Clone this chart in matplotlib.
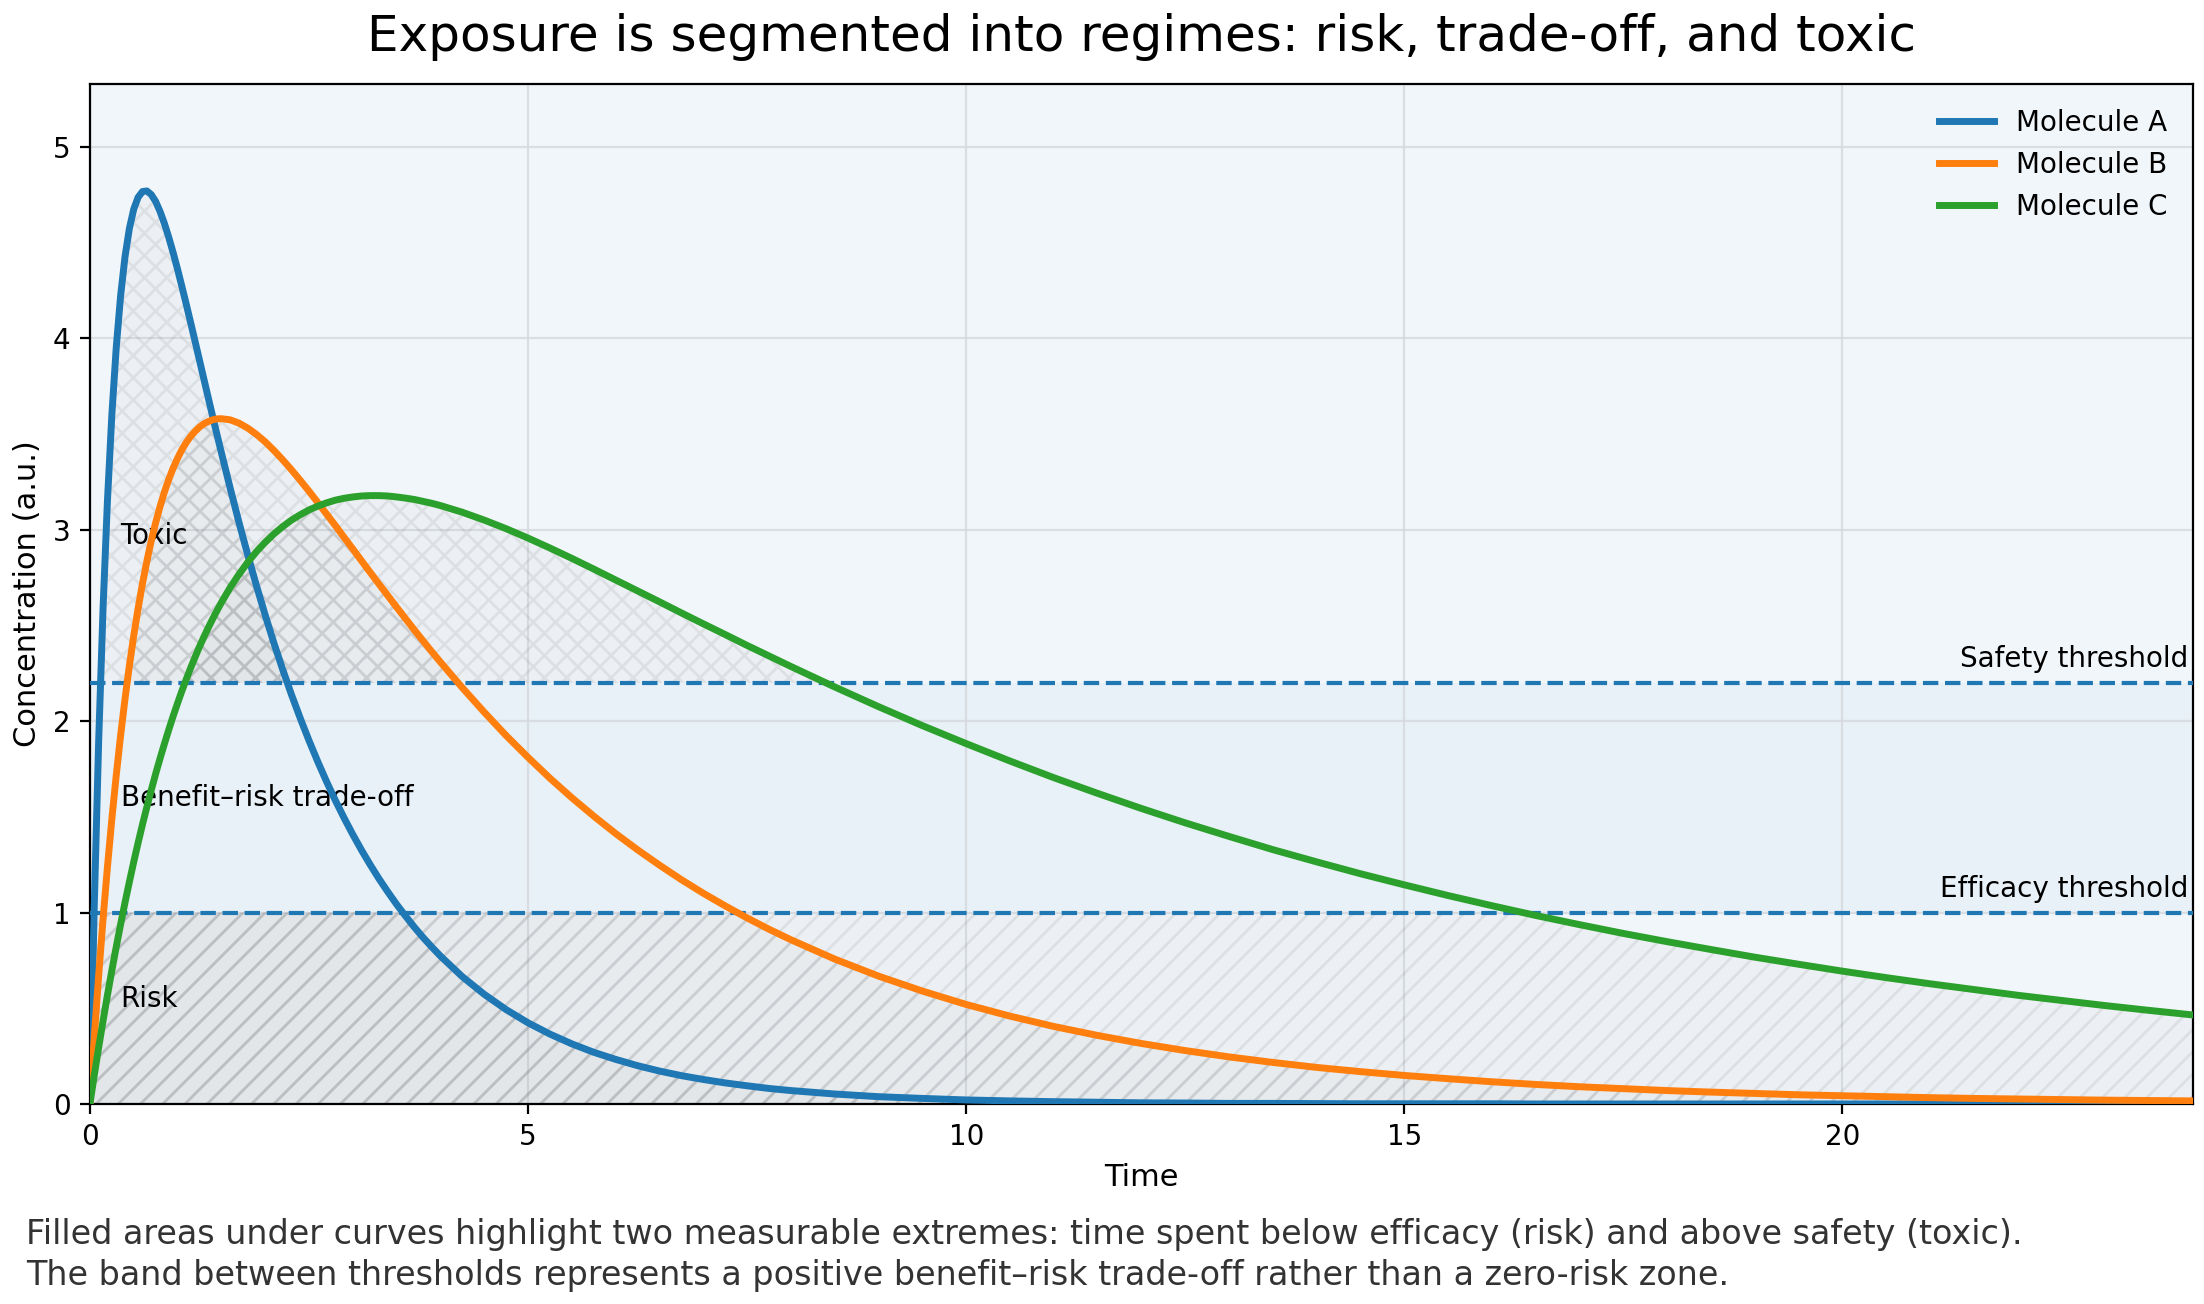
import numpy as np
import matplotlib
matplotlib.use("Agg")
import matplotlib.pyplot as plt

# time grid and concentrations
time = [0.00, 0.05, 0.10, 0.15, 0.20, 0.25, 0.30, 0.35, 0.40, 0.45, 0.50, 0.55, 0.60, 0.65,
        0.70, 0.75, 0.80, 0.85, 0.90, 0.95, 1.00, 1.05, 1.10, 1.15, 1.20, 1.25, 1.30, 1.35,
        1.40, 1.45, 1.50, 1.60, 1.70, 1.80, 1.90, 2.00, 2.10, 2.20, 2.30, 2.40, 2.50, 2.60,
        2.70, 2.80, 2.90, 3.00, 3.10, 3.20, 3.30, 3.40, 3.50, 3.60, 3.70, 3.80, 3.90, 4.00,
        4.25, 4.50, 4.75, 5.00, 5.25, 5.50, 5.75, 6.00, 6.25, 6.50, 6.75, 7.00, 7.25, 7.50,
        7.75, 8.00, 8.5, 9.0, 9.5, 10.0, 10.5, 11.0, 11.5, 12.0, 12.5, 13.0, 13.5, 14.0,
        14.5, 15.0, 15.5, 16.0, 16.5, 17.0, 17.5, 18.0, 18.5, 19.0, 19.5, 20.0, 20.5, 21.0,
        21.5, 22.0, 22.5, 23.0, 23.5, 24.0]

mol_a = [0.000, 1.044, 1.899, 2.593, 3.153, 3.599, 3.951, 4.222, 4.426, 4.574, 4.676, 4.738,
         4.768, 4.771, 4.752, 4.716, 4.664, 4.601, 4.528, 4.448, 4.362, 4.271, 4.178, 4.082,
         3.985, 3.887, 3.789, 3.691, 3.594, 3.498, 3.404, 3.219, 3.041, 2.871, 2.709, 2.555,
         2.408, 2.270, 2.139, 2.016, 1.899, 1.789, 1.685, 1.587, 1.495, 1.408, 1.326, 1.249,
         1.176, 1.108, 1.043, 0.983, 0.925, 0.871, 0.821, 0.773, 0.665, 0.573, 0.493, 0.424,
         0.365, 0.314, 0.270, 0.233, 0.200, 0.172, 0.148, 0.128, 0.110, 0.095, 0.081, 0.070,
         0.052, 0.038, 0.029, 0.021, 0.016, 0.012, 0.009, 0.006, 0.005, 0.003, 0.003, 0.002,
         0.001, 0.001, 0.001, 0.001, 0.000, 0.000, 0.000, 0.000, 0.000, 0.000, 0.000, 0.000,
         0.000, 0.000, 0.000, 0.000, 0.000, 0.000, 0.000, 0.000]

mol_b = [0.000, 0.350, 0.672, 0.968, 1.239, 1.488, 1.716, 1.925, 2.115, 2.289, 2.447, 2.590,
         2.720, 2.837, 2.943, 3.037, 3.122, 3.198, 3.264, 3.323, 3.374, 3.419, 3.457, 3.489,
         3.515, 3.537, 3.554, 3.566, 3.575, 3.580, 3.581, 3.575, 3.558, 3.532, 3.499, 3.460,
         3.415, 3.366, 3.314, 3.259, 3.202, 3.143, 3.083, 3.023, 2.961, 2.900, 2.838, 2.777,
         2.716, 2.656, 2.596, 2.537, 2.478, 2.421, 2.364, 2.309, 2.175, 2.047, 1.925, 1.811,
         1.702, 1.600, 1.504, 1.413, 1.328, 1.248, 1.172, 1.101, 1.035, 0.972, 0.913, 0.858,
         0.757, 0.668, 0.590, 0.520, 0.459, 0.405, 0.358, 0.316, 0.279, 0.246, 0.217, 0.191,
         0.169, 0.149, 0.132, 0.116, 0.102, 0.090, 0.080, 0.070, 0.062, 0.055, 0.048, 0.043,
         0.038, 0.033, 0.029, 0.026, 0.023, 0.020, 0.018, 0.016]

mol_c = [0.000, 0.151, 0.296, 0.435, 0.569, 0.697, 0.820, 0.938, 1.052, 1.160, 1.265, 1.365,
         1.461, 1.552, 1.640, 1.725, 1.805, 1.882, 1.956, 2.027, 2.094, 2.159, 2.220, 2.279,
         2.335, 2.389, 2.440, 2.488, 2.534, 2.578, 2.620, 2.698, 2.767, 2.830, 2.886, 2.935,
         2.979, 3.017, 3.051, 3.079, 3.104, 3.124, 3.141, 3.155, 3.165, 3.172, 3.177, 3.179,
         3.179, 3.177, 3.172, 3.166, 3.159, 3.149, 3.139, 3.127, 3.092, 3.051, 3.006, 2.957,
         2.905, 2.851, 2.795, 2.738, 2.681, 2.624, 2.566, 2.509, 2.453, 2.396, 2.341, 2.286,
         2.179, 2.076, 1.977, 1.883, 1.792, 1.705, 1.623, 1.544, 1.469, 1.398, 1.329, 1.265,
         1.203, 1.145, 1.089, 1.036, 0.985, 0.937, 0.891, 0.848, 0.807, 0.767, 0.730, 0.694,
         0.660, 0.628, 0.598, 0.568, 0.541, 0.514, 0.489, 0.465]

names = ["Molecule A", "Molecule B", "Molecule C"]
colors = ["#1f77b4", "#ff7f0e", "#2ca02c"]

efficacy = 1.0
safety = 2.2

t = np.array(time)
series = [np.array(mol_a), np.array(mol_b), np.array(mol_c)]

fig = plt.figure(figsize=(11.02, 6.52), dpi=200)
ax = fig.add_axes([0.0408, 0.1534, 0.9542, 0.7822])
ax.set_facecolor("#f1f6fa")

# band between the two thresholds
ax.axhspan(efficacy, safety, color="#1f77b4", alpha=0.04, lw=0, zorder=0)

fill_face = (0.5, 0.5, 0.5, 0.045)
hatch_edge = (0.5, 0.5, 0.5, 0.14)
for c in series:
    # risk: part of the curve below efficacy
    ax.fill_between(t, 0, np.minimum(c, efficacy), facecolor=fill_face,
                    edgecolor=hatch_edge, hatch="///", linewidth=0, zorder=1)
    # toxic: part of the curve above safety
    ax.fill_between(t, safety, c, where=c > safety, interpolate=True,
                    facecolor=fill_face, edgecolor=hatch_edge, hatch="xxx",
                    linewidth=0, zorder=1)

ax.grid(True, color="#d5d9de", linewidth=0.8, alpha=0.8)
ax.set_axisbelow(True)

for c, name, col in zip(series, names, colors):
    ax.plot(t, c, color=col, lw=2.5, label=name, zorder=4)

ax.axhline(safety, color="#1f77b4", lw=1.5, ls="--", zorder=3)
ax.axhline(efficacy, color="#1f77b4", lw=1.5, ls="--", zorder=3)
ax.text(23.95, safety + 0.05, "Safety threshold", ha="right", va="bottom", fontsize=10)
ax.text(23.95, efficacy + 0.05, "Efficacy threshold", ha="right", va="bottom", fontsize=10)

ax.text(0.35, 2.97, "Toxic", ha="left", va="center", fontsize=10)
ax.text(0.35, 1.6, "Benefit\u2013risk trade-off", ha="left", va="center", fontsize=10)
ax.text(0.35, 0.55, "Risk", ha="left", va="center", fontsize=10)

ax.set_xlim(0, 24)
ax.set_ylim(0, 5.33)
ax.set_xticks([0, 5, 10, 15, 20])
ax.tick_params(labelsize=10)
ax.set_xlabel("Time", fontsize=11)
ax.set_ylabel("Concentration (a.u.)", fontsize=11)
ax.set_title("Exposure is segmented into regimes: risk, trade-off, and toxic",
             fontsize=18, pad=12)

ax.legend(loc="upper right", frameon=False, fontsize=10)

fig.text(0.012, 0.066,
         "Filled areas under curves highlight two measurable extremes: time spent below "
         "efficacy (risk) and above safety (toxic).\n"
         "The band between thresholds represents a positive benefit\u2013risk trade-off "
         "rather than a zero-risk zone.",
         ha="left", va="top", fontsize=12, color="#333333", linespacing=1.3)

fig.savefig("out.png", dpi=200)
